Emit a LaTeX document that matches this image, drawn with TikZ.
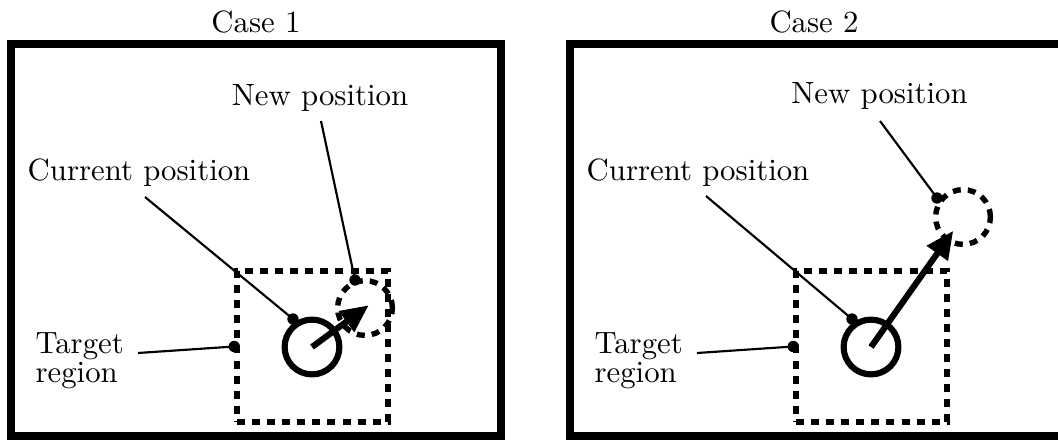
\documentclass[tikz,border=0pt]{standalone}
\usetikzlibrary{arrows.meta}
\begin{document}
\begin{tikzpicture}[x=0.325pt,y=-0.325pt,
  frame/.style={draw,line width=2.6pt},
  region/.style={draw,line width=1.75pt,dash pattern=on 2.6pt off 2.3pt,minimum size=49.1pt,inner sep=0pt},
  curpos/.style={circle,draw,line width=2pt,minimum size=17.8pt,inner sep=0pt},
  newpos/.style={circle,draw,line width=1.75pt,dash pattern=on 2.6pt off 2.3pt,minimum size=17.8pt,inner sep=0pt},
  move/.style={line width=2pt,-{Triangle[length=9pt,width=8pt]}},
  leader/.style={line width=0.7pt},
  pin/.style={circle,fill,inner sep=0pt,minimum size=3.7pt},
  lbl/.style={font=\fontsize{10}{9.4}\selectfont,inner sep=0pt}]
\useasboundingbox (0,0) rectangle (1058,439);

% ---------------- Case 1 ----------------
\path[frame] (11,44) rectangle (501,436);
\node[lbl,anchor=base] (title1) at (256,33) {Case 1};
\node[region] (sq1) at (312.5,346.5) {};
\node[curpos] (c1) at (312,347) {};
\node[newpos] (n1) at (365,308) {};
\draw[move,shorten >=-1.5pt] (c1.center) -- (n1.center);
\node[lbl,align=left,anchor=west] (tl1) at (35,361) {Target\\region};
\node[lbl,anchor=base] (cl1) at (139,181) {Current position};
\node[lbl,anchor=base] (nl1) at (320,105) {New position};
\node[pin] (td1) at (sq1.west) {};
\node[pin] (cd1) at (293,319) {};
\node[pin] (nd1) at (355,280) {};
\coordinate (ts1) at (138,353);
\coordinate (cs1) at (145,197);
\coordinate (ns1) at (321,121);
\draw[leader] (ts1) -- (td1.center);
\draw[leader] (cs1) -- (cd1.center);
\draw[leader] (ns1) -- (nd1.center);

% ---------------- Case 2 ----------------
\path[frame] (570,44) rectangle (1061.5,436);
\node[lbl,anchor=base] (title2) at (814,33) {Case 2};
\node[region] (sq2) at (871.5,346.5) {};
\node[curpos] (c2) at (871,347) {};
\node[newpos] (n2) at (963,217) {};
\draw[move,shorten >=5.5pt] (c2.center) -- (n2.center);
\node[lbl,align=left,anchor=west] (tl2) at (594,361) {Target\\region};
\node[lbl,anchor=base] (cl2) at (698,180) {Current position};
\node[lbl,anchor=base] (nl2) at (879.5,104) {New position};
\node[pin] (td2) at (sq2.west) {};
\node[pin] (cd2) at (852,319) {};
\node[pin] (nd2) at (937,198) {};
\coordinate (ts2) at (697,353);
\coordinate (cs2) at (706,196);
\coordinate (ns2) at (880,121);
\draw[leader] (ts2) -- (td2.center);
\draw[leader] (cs2) -- (cd2.center);
\draw[leader] (ns2) -- (nd2.center);
\end{tikzpicture}
\end{document}
